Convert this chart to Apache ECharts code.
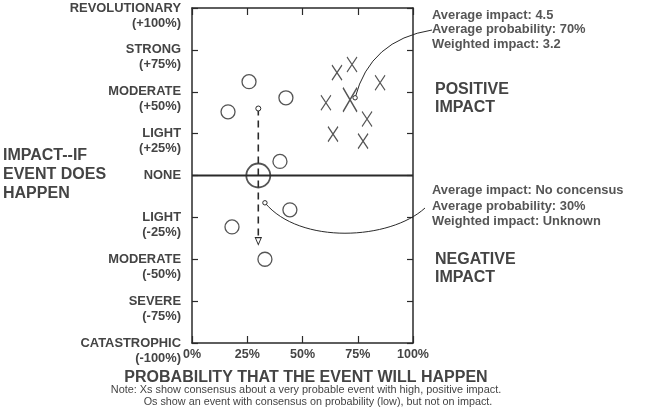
<!DOCTYPE html>
<html><head><meta charset="utf-8">
<script src="https://cdn.jsdelivr.net/npm/echarts@6/dist/echarts.min.js"></script>
<style>html,body{margin:0;padding:0;background:#fff}#c{width:650px;height:420px}</style>
</head><body><div id="c"></div>
<script>
const FONT = '"Liberation Sans", Arial, sans-serif';
const impactTicks = [-100, -75, -50, -25, 0, 25, 50, 75, 100];
const impactNames = ['CATASTROPHIC', 'SEVERE', 'MODERATE', 'LIGHT', 'NONE', 'LIGHT', 'MODERATE', 'STRONG', 'REVOLUTIONARY'];
const impactPcts = ['(-100%)', '(-75%)', '(-50%)', '(-25%)', '', '(+25%)', '(+50%)', '(+75%)', '(+100%)'];
const probTicks = [0, 25, 50, 75, 100];
// X marks: consensus positive event
const xsProb = [65.6, 72.4, 85.1, 60.6, 63.8, 79.2, 77.4];
const xsImpact = [61.4, 66.3, 55.4, 43.4, 24.7, 33.7, 20.5];
const xsAvg = [71.5, 45.2];
// O marks: low probability, no consensus on impact
const osProb = [25.8, 16.3, 42.5, 39.8, 44.3, 18.1, 33.0];
const osImpact = [56.0, 38.0, 46.4, 8.4, -20.5, -30.7, -50.0];
const osAvg = [30, 0];
const osRangeProb = [30, 30];
const osRangeImpact = [40, -38];
const zeroLineProb = [0, 100];
const zeroLineImpact = [0, 0];
// callout anchor points (data coordinates)
const posAnchor = [73.8, 46.4];
const negAnchor = [33, -16.3];

const textGray = '#444';
const ink = '#2a2a2a';
const X_PATH = 'path://M0,0L10,15M10,0L0,15';
const ARROW_DOWN = 'path://M0,0L10,0L5,10Z';

const chart = echarts.init(document.getElementById('c'), null, {renderer: 'canvas'});

const axisLine = {show: true, onZero: false, lineStyle: {color: ink, width: 1.5}};
const tickIn = {show: true, inside: true, length: 7, lineStyle: {color: ink, width: 1.2}};
const yLabelBase = {
  margin: 11, color: textGray, fontFamily: FONT, fontWeight: 'bold', fontSize: 12.9,
  align: 'right', showMinLabel: true, showMaxLabel: true, hideOverlap: false
};

const option = {
  animation: false,
  backgroundColor: '#fff',
  grid: {left: 192, right: 237, top: 8, bottom: 77, containLabel: false, outerBoundsMode: 'none'},
  xAxis: [{
    type: 'value', min: 0, max: 100, interval: 25, position: 'bottom',
    axisLine, axisTick: tickIn, splitLine: {show: false},
    axisLabel: {
      margin: 5, color: textGray, fontFamily: FONT, fontWeight: 'bold', fontSize: 12.5,
      showMinLabel: true, showMaxLabel: true, hideOverlap: false,
      formatter: v => probTicks.indexOf(v) >= 0 ? v + '%' : ''
    },
    name: 'PROBABILITY THAT THE EVENT WILL HAPPEN', nameLocation: 'middle', nameGap: 27,
    nameTextStyle: {color: textGray, fontFamily: FONT, fontWeight: 'bold', fontSize: 16, padding: [0, 0, 0, 7]}
  }, {
    type: 'value', min: 0, max: 100, interval: 25, position: 'top',
    axisLine, axisTick: tickIn, splitLine: {show: false}, axisLabel: {show: false}
  }],
  yAxis: [{
    type: 'value', min: -100, max: 100, interval: 25, position: 'left',
    axisLine, axisTick: {show: true, inside: true, length: 6, lineStyle: {color: ink, width: 1.2}},
    splitLine: {show: false},
    axisLabel: Object.assign({}, yLabelBase, {
      lineHeight: 15,
      formatter: v => { const i = impactTicks.indexOf(v); return i < 0 ? '' : impactNames[i]; }
    })
  }, {
    type: 'value', min: -100, max: 100, interval: 25, position: 'right',
    axisLine, axisTick: {show: true, inside: true, length: 6, lineStyle: {color: ink, width: 1.2}},
    splitLine: {show: false}, axisLabel: {show: false}
  }, {
    type: 'value', min: -100, max: 100, interval: 25, position: 'left', offset: 0,
    axisLine: {show: false}, axisTick: {show: false}, splitLine: {show: false},
    axisLabel: Object.assign({}, yLabelBase, {
      lineHeight: 30, verticalAlign: 'top',
      formatter: v => { const i = impactTicks.indexOf(v); return i < 0 ? '' : impactPcts[i]; }
    })
  }],
  series: [
    {
      type: 'line', data: zeroLineProb.map((x, i) => [x, zeroLineImpact[i]]),
      symbol: 'none', lineStyle: {color: ink, width: 2}, z: 3
    },
    {
      type: 'line',
      data: [
        {value: [osRangeProb[0], osRangeImpact[0]], symbol: 'circle', symbolSize: 5},
        {value: [osRangeProb[1], osRangeImpact[1]], symbol: ARROW_DOWN, symbolSize: [6, 7], symbolOffset: [0, 2]}
      ],
      showSymbol: true,
      itemStyle: {color: '#fff', borderColor: ink, borderWidth: 1},
      lineStyle: {color: ink, width: 1.6, type: [7, 5]}, z: 3
    },
    {
      type: 'scatter', data: xsProb.map((x, i) => [x, xsImpact[i]]),
      symbol: X_PATH, symbolSize: [10, 15],
      itemStyle: {color: 'none', borderColor: ink, borderWidth: 1.3}, z: 4
    },
    {
      type: 'scatter', data: [xsAvg],
      symbol: X_PATH, symbolSize: [14, 24],
      itemStyle: {color: 'none', borderColor: ink, borderWidth: 1.6}, z: 4
    },
    {
      type: 'scatter', data: osProb.map((x, i) => [x, osImpact[i]]),
      symbol: 'circle', symbolSize: 14,
      itemStyle: {color: 'rgba(0,0,0,0)', borderColor: ink, borderWidth: 1.3}, z: 4
    },
    {
      type: 'scatter', data: [osAvg],
      symbol: 'circle', symbolSize: 24,
      itemStyle: {color: 'rgba(0,0,0,0)', borderColor: ink, borderWidth: 1.8}, z: 4
    }
  ]
};
chart.setOption(option);

const P = (pt) => chart.convertToPixel({gridIndex: 0}, pt);
const pe = P(posAnchor);
const ne = P(negAnchor);

chart.setOption({
  graphic: [
    {type: 'text', left: 3, top: 146, style: {text: 'IMPACT--IF\nEVENT DOES\nHAPPEN', font: 'bold 16px ' + FONT, lineHeight: 19, fill: textGray}},
    {type: 'text', left: 435, top: 81, style: {text: 'POSITIVE\nIMPACT', font: 'bold 16px ' + FONT, lineHeight: 18, fill: textGray}},
    {type: 'text', left: 435, top: 251, style: {text: 'NEGATIVE\nIMPACT', font: 'bold 16px ' + FONT, lineHeight: 18, fill: textGray}},
    {type: 'text', left: 432, top: 8, style: {text: 'Average impact: 4.5\nAverage probability: 70%\nWeighted impact: 3.2', font: 'bold 12.9px ' + FONT, lineHeight: 14.5, fill: '#555'}},
    {type: 'text', left: 432, top: 183, style: {text: 'Average impact: No concensus\nAverage probability: 30%\nWeighted impact: Unknown', font: 'bold 12.9px ' + FONT, lineHeight: 15.5, fill: '#555'}},
    {type: 'text', x: 306, y: 390, style: {text: 'Note: Xs show consensus about a very probable event with high, positive impact.', font: '10.9px ' + FONT, fill: '#444', align: 'center', verticalAlign: 'middle'}},
    {type: 'text', x: 318, y: 402, style: {text: 'Os show an event with consensus on probability (low), but not on impact.', font: '10.8px ' + FONT, fill: '#444', align: 'center', verticalAlign: 'middle'}},
    {type: 'bezierCurve', shape: {x1: 432, y1: 30, cpx1: 370, cpy1: 40, x2: pe[0], y2: pe[1]}, style: {stroke: ink, lineWidth: 1, fill: null}, z: 10},
    {type: 'circle', shape: {cx: pe[0], cy: pe[1], r: 2.2}, style: {stroke: ink, lineWidth: 1, fill: '#fff'}, z: 11},
    {type: 'bezierCurve', shape: {x1: 425, y1: 208, cpx1: 390, cpy1: 240, cpx2: 300, cpy2: 245, x2: ne[0], y2: ne[1]}, style: {stroke: ink, lineWidth: 1, fill: null}, z: 10},
    {type: 'circle', shape: {cx: ne[0], cy: ne[1], r: 2.2}, style: {stroke: ink, lineWidth: 1, fill: '#fff'}, z: 11}
  ]
});
</script></body></html>
